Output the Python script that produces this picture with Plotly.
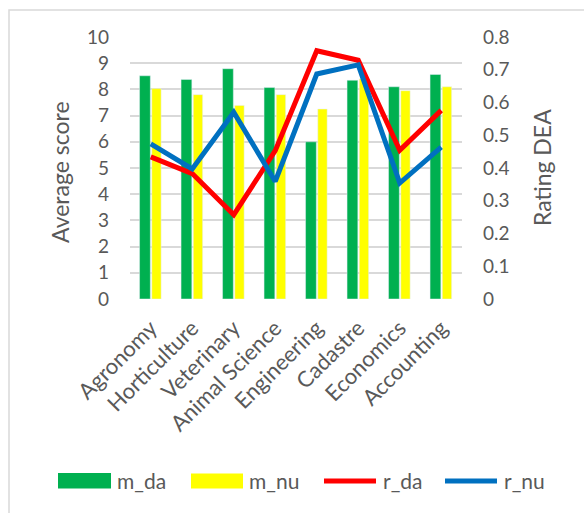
import plotly.graph_objects as go

# Programmes and their scores
categories = ["Agronomy", "Horticulture", "Veterinary", "Animal Science",
              "Engineering", "Cadastre", "Economics", "Accounting"]
m_da = [8.52, 8.38, 8.79, 8.07, 6.00, 8.35, 8.10, 8.57]
m_nu = [8.03, 7.80, 7.39, 7.80, 7.25, 8.40, 7.95, 8.10]
r_da = [0.434, 0.383, 0.257, 0.453, 0.758, 0.729, 0.454, 0.576]
r_nu = [0.474, 0.397, 0.570, 0.359, 0.687, 0.715, 0.354, 0.464]

left_ticks = list(range(0, 11))
right_ticks = [0, 0.1, 0.2, 0.3, 0.4, 0.5, 0.6, 0.7, 0.8]

W, H = 584, 513
ML, MR, MT, MB = 130, 122, 37, 214
PW, PH = W - ML - MR, H - MT - MB

FONT = "Lato, Carlito, 'Open Sans', sans-serif"
GRAY = "#595959"
GRID = "#D9D9D9"
GREEN, YELLOW, RED, BLUE = "#00B050", "#FFFF00", "#FF0000", "#0070C0"


def px(x):
    return (x - ML) / PW


def py(y):
    return (H - MB - y) / PH


fig = go.Figure()
fig.add_trace(go.Bar(x=categories, y=m_da, name="m_da", marker_color=GREEN,
                     width=0.26, offset=-0.27, showlegend=False))
fig.add_trace(go.Bar(x=categories, y=m_nu, name="m_nu", marker_color=YELLOW,
                     width=0.225, offset=0.025, showlegend=False))
fig.add_trace(go.Scatter(x=categories, y=r_da, name="r_da", mode="lines",
                         line=dict(color=RED, width=5), yaxis="y2",
                         showlegend=False))
fig.add_trace(go.Scatter(x=categories, y=r_nu, name="r_nu", mode="lines",
                         line=dict(color=BLUE, width=5), yaxis="y2",
                         showlegend=False))

shapes = [
    # chart frame
    dict(type="rect", xref="paper", yref="paper",
         x0=px(9), x1=px(W + 20), y0=py(10), y1=py(H + 20),
         line=dict(color=GRID, width=1.5), fillcolor="rgba(0,0,0,0)",
         layer="below"),
    # legend swatches
    dict(type="rect", xref="paper", yref="paper",
         x0=px(58), x1=px(111), y0=py(473), y1=py(488.5),
         line=dict(width=0), fillcolor=GREEN),
    dict(type="rect", xref="paper", yref="paper",
         x0=px(191), x1=px(243), y0=py(473.5), y1=py(488.5),
         line=dict(width=0), fillcolor=YELLOW),
    dict(type="line", xref="paper", yref="paper",
         x0=px(324), x1=px(376), y0=py(481), y1=py(481),
         line=dict(color=RED, width=5)),
    dict(type="line", xref="paper", yref="paper",
         x0=px(445), x1=px(497), y0=py(481), y1=py(481),
         line=dict(color=BLUE, width=5)),
]

annotations = [
    dict(text="Average score", xref="paper", yref="paper",
         x=px(60), y=py(172), xanchor="center", yanchor="middle",
         textangle=-90, showarrow=False,
         font=dict(family=FONT, size=23, color=GRAY)),
    dict(text="Rating DEA", xref="paper", yref="paper",
         x=px(542), y=py(168), xanchor="center", yanchor="middle",
         textangle=-90, showarrow=False,
         font=dict(family=FONT, size=23, color=GRAY)),
]
for label, x0 in [("m_da", 115), ("m_nu", 247), ("r_da", 381), ("r_nu", 502)]:
    annotations.append(dict(text=label, xref="paper", yref="paper",
                            x=px(x0), y=py(480), xanchor="left",
                            yanchor="middle", showarrow=False,
                            font=dict(family=FONT, size=21, color=GRAY)))

fig.update_layout(
    width=W, height=H,
    margin=dict(l=ML, r=MR, t=MT, b=MB),
    paper_bgcolor="white", plot_bgcolor="white",
    barmode="overlay",
    font=dict(family=FONT, color=GRAY),
    shapes=shapes, annotations=annotations,
    xaxis=dict(tickangle=-45, showgrid=False, showline=False, ticks="",
               ticklabelstandoff=11,
               tickfont=dict(family=FONT, size=22, color=GRAY),
               range=[-0.5, len(categories) - 0.5]),
    yaxis=dict(range=[0, 10], tickvals=left_ticks, showgrid=True,
               gridcolor=GRID, gridwidth=1.5, zeroline=False,
               showline=False, ticks="", ticklabelstandoff=20,
               tickfont=dict(family=FONT, size=19, color=GRAY)),
    yaxis2=dict(range=[0, 0.8], tickvals=right_ticks, overlaying="y",
                side="right", showgrid=False, zeroline=False,
                showline=False, ticks="", ticklabelstandoff=20,
                tickfont=dict(family=FONT, size=19, color=GRAY)),
)

fig.write_html("out.html")
